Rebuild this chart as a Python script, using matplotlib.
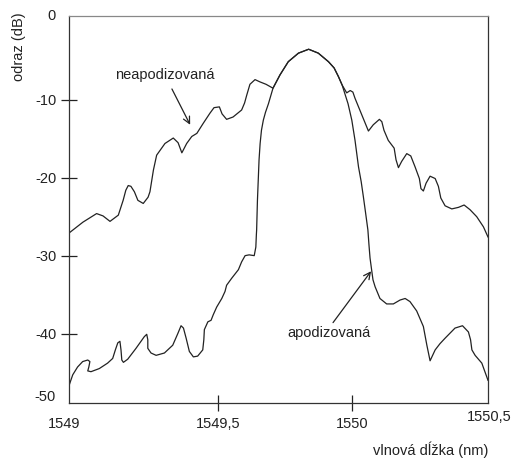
import numpy as np
import matplotlib
matplotlib.use("Agg")
import matplotlib.pyplot as plt

plt.rcParams['font.family'] = ['Liberation Sans', 'DejaVu Sans']

# main lobe, shared by both spectra (nm, dB)
lobe_x = [1549.705, 1549.731, 1549.762, 1549.800, 1549.838, 1549.874, 1549.912, 1549.933, 1549.949, 1549.963]
lobe_y = [-8.5, -6.8, -5.1, -4.0, -3.5, -4.0, -5.1, -5.9, -7.0, -8.1]

# neapodizovana - left side lobes
neapod_left_x = [1548.944, 1548.996, 1549.047, 1549.071, 1549.097, 1549.128, 1549.146, 1549.156, 1549.165,
                 1549.175, 1549.188, 1549.201, 1549.221, 1549.239, 1549.246, 1549.259, 1549.271, 1549.302,
                 1549.333, 1549.351, 1549.365, 1549.383, 1549.402, 1549.421, 1549.445, 1549.470, 1549.485,
                 1549.505, 1549.515, 1549.532, 1549.556, 1549.588, 1549.599, 1549.607, 1549.619, 1549.638,
                 1549.657, 1549.679]
neapod_left_y = [-27.1, -25.7, -24.6, -24.9, -25.6, -24.8, -22.9, -21.6, -21.0,
                 -21.1, -21.8, -22.9, -23.3, -22.5, -21.8, -19.0, -17.1, -15.6,
                 -14.9, -15.5, -16.8, -15.6, -14.7, -14.3, -13.0, -11.7, -11.0,
                 -10.9, -11.8, -12.5, -12.2, -11.3, -10.4, -9.4, -8.0, -7.4,
                 -7.7, -8.0]

# neapodizovana - right side lobes
neapod_right_x = [1549.980, 1549.993, 1550.003, 1550.011, 1550.036, 1550.061, 1550.079, 1550.102, 1550.111,
                  1550.119, 1550.135, 1550.157, 1550.164, 1550.173, 1550.185, 1550.204, 1550.219, 1550.235,
                  1550.251, 1550.257, 1550.266, 1550.276, 1550.291, 1550.310, 1550.322, 1550.331, 1550.347,
                  1550.372, 1550.397, 1550.418, 1550.440, 1550.465, 1550.490, 1550.507]
neapod_right_y = [-9.1, -8.8, -9.0, -9.8, -11.9, -14.0, -13.2, -12.5, -12.8,
                  -13.9, -15.2, -16.2, -17.7, -18.7, -17.9, -16.9, -17.2, -18.6,
                  -20.1, -21.4, -21.7, -20.7, -19.8, -20.1, -21.1, -22.6, -23.6,
                  -24.0, -23.8, -23.5, -24.1, -25.0, -26.3, -27.6]

# apodizovana - left flank
apod_left_x = [1548.945, 1548.958, 1548.976, 1548.995, 1549.014, 1549.022, 1549.018, 1549.014, 1549.026,
               1549.057, 1549.088, 1549.107, 1549.117, 1549.126, 1549.134, 1549.138, 1549.141, 1549.147,
               1549.163, 1549.194, 1549.225, 1549.234, 1549.238, 1549.238, 1549.250, 1549.269, 1549.300,
               1549.331, 1549.350, 1549.362, 1549.371, 1549.381, 1549.393, 1549.408, 1549.424, 1549.443,
               1549.447, 1549.449, 1549.462, 1549.474, 1549.482, 1549.495, 1549.514, 1549.526, 1549.532,
               1549.551, 1549.576, 1549.588, 1549.601, 1549.616, 1549.635, 1549.641, 1549.643, 1549.644,
               1549.647, 1549.650, 1549.653, 1549.657, 1549.662, 1549.669, 1549.677, 1549.688]
apod_left_y = [-46.6, -45.3, -44.3, -43.6, -43.4, -43.6, -44.3, -44.8, -44.9,
               -44.5, -43.8, -43.2, -42.1, -41.2, -41.0, -42.1, -43.4, -43.7,
               -43.3, -41.9, -40.4, -40.1, -40.8, -41.9, -42.5, -42.8, -42.5,
               -41.5, -40.0, -39.0, -39.3, -40.6, -42.3, -43.0, -42.9, -42.1,
               -40.8, -39.5, -38.5, -38.3, -37.6, -36.6, -35.5, -34.6, -33.8,
               -32.9, -31.8, -30.8, -30.0, -29.9, -30.0, -28.9, -27.3, -26.7,
               -22.9, -20.3, -17.7, -15.6, -13.9, -12.6, -11.6, -10.5]

# apodizovana - right flank
apod_right_x = [1549.974, 1549.985, 1549.999, 1550.011, 1550.024, 1550.034, 1550.042, 1550.050, 1550.059,
                1550.063, 1550.067, 1550.074, 1550.078, 1550.086, 1550.104, 1550.129, 1550.154, 1550.179,
                1550.198, 1550.216, 1550.241, 1550.266, 1550.279, 1550.291, 1550.310, 1550.328, 1550.347,
                1550.384, 1550.412, 1550.434, 1550.442, 1550.447, 1550.459, 1550.484, 1550.507]
apod_right_y = [-9.3, -10.5, -12.6, -15.2, -18.6, -20.5, -22.4, -24.4, -26.7,
                -28.6, -30.3, -32.1, -33.1, -34.0, -35.5, -36.2, -36.2, -35.7,
                -35.5, -35.9, -37.1, -39.1, -41.5, -43.5, -42.1, -41.3, -40.6,
                -39.3, -39.0, -39.8, -40.8, -42.1, -42.8, -43.8, -46.0]

neapod_x = neapod_left_x + lobe_x + neapod_right_x
neapod_y = neapod_left_y + lobe_y + neapod_right_y
apod_x = apod_left_x + lobe_x + apod_right_x
apod_y = apod_left_y + lobe_y + apod_right_y

fig = plt.figure(figsize=(5.16, 4.59), dpi=100)
ax = fig.add_axes([0.1337, 0.122, 0.812, 0.843])

line_color = '#222222'
ax.plot(neapod_x, neapod_y, color=line_color, lw=0.9, solid_joinstyle='round')
ax.plot(apod_x, apod_y, color=line_color, lw=0.9, solid_joinstyle='round')

ax.set_xlim(1548.944, 1550.507)
ax.set_ylim(-48.92, 0.76)
ax.set_xticks([1549.5, 1550])
ax.set_xticklabels(['1549,5', '1550'])
ax.set_yticks([-40, -30, -20, -10])
ax.set_yticklabels(['-40', '-30', '-20', '-10'])
fs = 10.5
ax.tick_params(axis='both', direction='inout', length=12, width=0.9, colors='#222222', labelsize=fs)
ax.tick_params(axis='x', pad=4)
ax.tick_params(axis='y', pad=3)

for side in ['left', 'bottom', 'right']:
    ax.spines[side].set_color('#333333')
    ax.spines[side].set_linewidth(0.9)
ax.spines['top'].set_color('#888888')
ax.spines['top'].set_linewidth(0.9)

# end labels sit at the frame corners, without tick marks
ax.text(-0.012, -0.054, '1549', transform=ax.transAxes, ha='center', va='center', fontsize=fs, color='#222222')
ax.text(1.002, -0.036, '1550,5', transform=ax.transAxes, ha='center', va='center', fontsize=fs, color='#222222')
ax.text(-0.033, 1.0, '0', transform=ax.transAxes, ha='right', va='center', fontsize=fs, color='#222222')
ax.text(-0.033, 0.0155, '-50', transform=ax.transAxes, ha='right', va='center', fontsize=fs, color='#222222')

ax.text(-0.119, 0.922, 'odraz (dB)', transform=ax.transAxes, rotation=90, ha='center', va='center',
        fontsize=fs, color='#222222')
ax.text(1.0, -0.121, 'vlnová dĺžka (nm)', transform=ax.transAxes, ha='right', va='center',
        fontsize=fs, color='#222222')

arrow = dict(arrowstyle='->', color='#222222', lw=0.9, shrinkA=0, shrinkB=0, mutation_scale=12)
ax.annotate('', xy=(1549.396, -13.2), xytext=(1549.328, -8.6), arrowprops=arrow)
ax.text(1549.302, -6.8, 'neapodizovaná', ha='center', va='center', fontsize=fs, color='#222222')
ax.annotate('', xy=(1550.071, -32.0), xytext=(1549.929, -38.6), arrowprops=arrow)
ax.text(1549.914, -39.9, 'apodizovaná', ha='center', va='center', fontsize=fs, color='#222222')

plt.savefig('out.png', dpi=100)
plt.close(fig)
